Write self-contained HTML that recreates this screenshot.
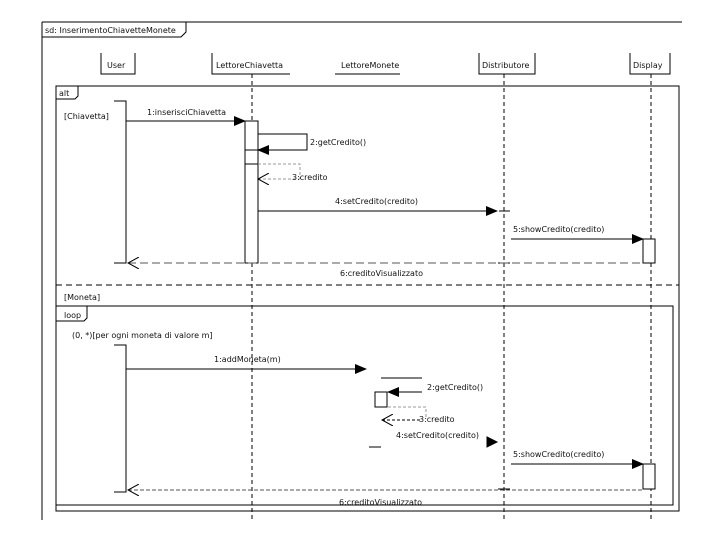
<!DOCTYPE html>
<html><head><meta charset="utf-8"><style>
html,body{margin:0;padding:0;background:#fff;width:720px;height:540px;overflow:hidden}
svg text{font-family:"DejaVu Sans","Liberation Sans",sans-serif;font-size:8px;fill:#111}
</style></head><body>
<svg width="720" height="540" viewBox="0 0 720 540" xmlns="http://www.w3.org/2000/svg">
<defs>
<marker id="f" markerWidth="12" markerHeight="10" refX="11" refY="5" orient="auto" markerUnits="userSpaceOnUse"><path d="M0,0 L12,5 L0,10 z" fill="#000"/></marker>
<marker id="o" markerWidth="12" markerHeight="12" refX="1" refY="6" orient="auto" markerUnits="userSpaceOnUse"><path d="M12,0 L1,6 L12,12" fill="none" stroke="#000"/></marker>
</defs>
<g stroke="#000" fill="none" stroke-width="1">
<path d="M42,22 H682 M42,22 V520"/>
<path d="M42,37 H181 L186,32 V22"/>
<path d="M101,53 V74 H135 V53"/>
<path d="M212,53 V74 H290"/>
<path d="M335,74 H400"/>
<path d="M479,53 V74 H535 V53"/>
<path d="M630,53 V74 H670 V53"/>
<path d="M252,74 V520 M504,74 V520 M651,74 V520" stroke-dasharray="4,3"/>
<rect x="56" y="86" width="623" height="425"/>
<path d="M56,99 H75 L78,96 V86"/>
<path d="M56,285 H679" stroke-dasharray="6,4"/>
<rect x="56" y="306" width="617" height="199"/>
<path d="M56,321 H84 L87,318 V306"/>
<path d="M114,101 H126 V263 H114"/>
<rect x="245" y="121" width="13" height="142" fill="#fff"/>
<path d="M245,150 H258 M245,164 H258"/>
<rect x="643" y="239" width="12" height="24" fill="#fff"/>
<path d="M114,345 H126 V492 H114"/>
<rect x="375" y="392" width="12" height="15" fill="#fff"/>
<rect x="643" y="464" width="12" height="25" fill="#fff"/>
<path d="M498,263 H510 M498,489 H510 M499,211 H510 M381,378 H422 M369,447 H381"/>
<path d="M126,121 H245" marker-end="url(#f)"/>
<path d="M258,134 H307 V150 H258" marker-end="url(#f)"/>
<path d="M258,164 H300 V179" stroke="#999" stroke-dasharray="3,2"/>
<path d="M258,179 H300" stroke="#999" stroke-dasharray="3,2" marker-start="url(#o)"/>
<path d="M258,211 H497" marker-end="url(#f)"/>
<path d="M511,239 H643" marker-end="url(#f)"/>
<path d="M128,263 H643" stroke="#555" stroke-dasharray="8,4" marker-start="url(#o)"/>
<path d="M126,369 H366" marker-end="url(#f)"/>
<path d="M422,392 H388" marker-end="url(#f)"/>
<path d="M388,407 H426 V418" stroke="#999" stroke-dasharray="3,2"/>
<path d="M382,420 H420" stroke-dasharray="3,2" marker-start="url(#o)"/>
<path d="M487,437 L497,442 L487,447 z" fill="#000"/>
<path d="M511,464 H643" marker-end="url(#f)"/>
<path d="M128,490 H643" stroke="#555" stroke-dasharray="4,2" marker-start="url(#o)"/>
</g>
<text x="45" y="33">sd: InserimentoChiavetteMonete</text>
<text x="107" y="68">User</text>
<text x="216" y="68">LettoreChiavetta</text>
<text x="341" y="68">LettoreMonete</text>
<text x="482" y="68">Distributore</text>
<text x="633" y="68">Display</text>
<text x="59" y="96">alt</text>
<text x="64" y="119">[Chiavetta]</text>
<text x="147" y="115">1:inserisciChiavetta</text>
<text x="310" y="145">2:getCredito()</text>
<text x="292" y="180">3:credito</text>
<text x="335" y="204">4:setCredito(credito)</text>
<text x="513" y="232">5:showCredito(credito)</text>
<text x="340" y="276">6:creditoVisualizzato</text>
<text x="64" y="300">[Moneta]</text>
<text x="64" y="318">loop</text>
<text x="72" y="338">(0, *)[per ogni moneta di valore m]</text>
<text x="214" y="362">1:addMoneta(m)</text>
<text x="427" y="390">2:getCredito()</text>
<text x="419" y="422">3:credito</text>
<text x="396" y="438">4:setCredito(credito)</text>
<text x="513" y="457">5:showCredito(credito)</text>
<text x="339" y="505">6:creditoVisualizzato</text>
</svg>
</body></html>
